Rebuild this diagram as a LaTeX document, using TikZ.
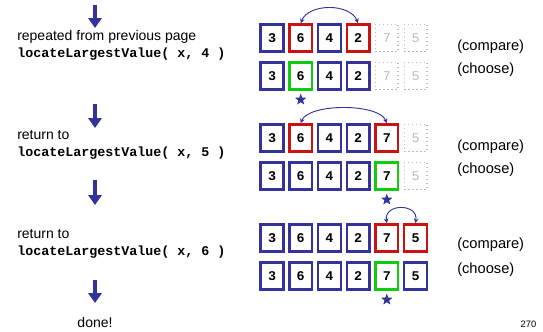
\documentclass[tikz,border=0pt]{standalone}
\usepackage{fontspec}
\setmainfont{Liberation Sans}
\setmonofont{Liberation Mono}
\usepackage{tikz}
\usetikzlibrary{positioning, arrows.meta, shapes.geometric}
\definecolor{cellblue}{HTML}{333399}
\definecolor{cellred}{HTML}{CC1111}
\definecolor{cellgreen}{HTML}{11CC11}
\definecolor{ghostgray}{HTML}{BBBBBB}

\begin{document}
\begin{tikzpicture}[x=0.75pt, y=-0.75pt,
    cell/.style={draw=cellblue, line width=1.8pt, minimum width=17pt, minimum height=20.5pt,
                 inner sep=0pt, font=\ttfamily\bfseries},
    cmp/.style={cell, draw=cellred},
    pick/.style={cell, draw=cellgreen},
    ghost/.style={cell, draw=ghostgray, line width=1pt, dotted, text=ghostgray, font=\ttfamily},
    swapline/.style={cellblue, line width=0.7pt,
                     {Stealth[length=3.5pt,width=3.5pt]}-{Stealth[length=3.5pt,width=3.5pt]}},
    flow/.style={cellblue, line width=2.5pt, -{Triangle[length=7.5pt,width=10pt]}},
    winner/.style={star, star points=5, star point ratio=2.4, fill=cellblue, inner sep=0pt, minimum size=9pt},
    call/.style={anchor=west, align=left, inner xsep=0pt, font=\fontsize{10.5}{12.8}\selectfont},
    note/.style={anchor=west, inner xsep=0pt, font=\fontsize{11}{13}\selectfont}]
  \useasboundingbox (0,0) rectangle (543,332);

  % step 1
  \coordinate (f0) at (95,5);
  \coordinate (t0) at (95,28);
  \draw[flow] (f0) -- (t0);
  \node[call] (call4) at (17,45) {repeated from previous page\\
    \fontsize{10}{12}\ttfamily\bfseries locateLargestValue( x, 4 )};
  \foreach \v/\st [count=\i] in {3/cell,6/cmp,4/cell,2/cmp,7/ghost,5/ghost}
    \node[\st] (a\i) at ({243.3+28.7*\i},38) {\v};
  \foreach \v/\st [count=\i] in {3/cell,6/pick,4/cell,2/cell,7/ghost,5/ghost}
    \node[\st] (b\i) at ({243.3+28.7*\i},76) {\v};
  \draw[swapline] (a2.north) .. controls +(8,-20) and +(-8,-20) .. (a4.north);
  \node[winner, below=1.5pt of b2] (sb) {};
  \node[note] (cmpa) at (457,47) {(compare)};
  \node[note] (choa) at (457,70) {(choose)};

  % step 2
  \coordinate (f1) at (95,104);
  \coordinate (t1) at (95,128);
  \draw[flow] (f1) -- (t1);
  \node[call] (call5) at (17,145) {return to\\
    \fontsize{10}{12}\ttfamily\bfseries locateLargestValue( x, 5 )};
  \foreach \v/\st [count=\i] in {3/cell,6/cmp,4/cell,2/cell,7/cmp,5/ghost}
    \node[\st] (c\i) at ({243.3+28.7*\i},138) {\v};
  \foreach \v/\st [count=\i] in {3/cell,6/cell,4/cell,2/cell,7/pick,5/ghost}
    \node[\st] (d\i) at ({243.3+28.7*\i},176) {\v};
  \draw[swapline] (c2.north) .. controls +(8,-20) and +(-8,-20) .. (c5.north);
  \node[winner, below=1.5pt of d5] (sd) {};
  \node[note] (cmpc) at (457,147) {(compare)};
  \node[note] (choc) at (457,170) {(choose)};

  % step 3
  \coordinate (f2) at (95,180);
  \coordinate (t2) at (95,205);
  \draw[flow] (f2) -- (t2);
  \node[call] (call6) at (17,244) {return to\\
    \fontsize{10}{12}\ttfamily\bfseries locateLargestValue( x, 6 )};
  \foreach \v/\st [count=\i] in {3/cell,6/cell,4/cell,2/cell,7/cmp,5/cmp}
    \node[\st] (e\i) at ({243.3+28.7*\i},238) {\v};
  \foreach \v/\st [count=\i] in {3/cell,6/cell,4/cell,2/cell,7/pick,5/cell}
    \node[\st] (g\i) at ({243.3+28.7*\i},276) {\v};
  \draw[swapline] (e5.north) .. controls +(-3,-20) and +(3,-20) .. (e6.north);
  \node[winner, below=1.5pt of g5] (sg) {};
  \node[note] (cmpe) at (457,245) {(compare)};
  \node[note] (choe) at (457,270) {(choose)};

  % end
  \coordinate (f3) at (95,280);
  \coordinate (t3) at (95,303);
  \draw[flow] (f3) -- (t3);
  \node[font=\fontsize{10.5}{12}\selectfont] (done) at (95,322) {done!};
  \node[anchor=east, font=\scriptsize] (page) at (541,324) {270};
\end{tikzpicture}
\end{document}
